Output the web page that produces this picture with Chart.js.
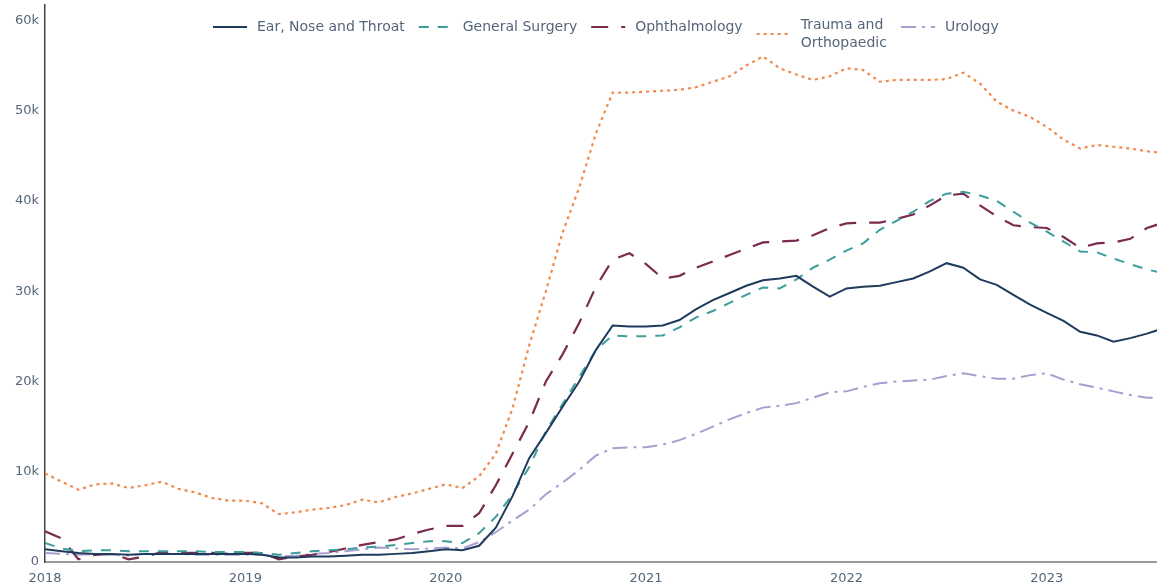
<!DOCTYPE html>
<html>
<head>
<meta charset="utf-8">
<script src="https://cdn.jsdelivr.net/npm/chart.js@4.4.1/dist/chart.umd.min.js"></script>
<style>
  html, body { margin: 0; padding: 0; background: #fff; }
  #wrap { width: 1157px; height: 586px; position: relative; }
</style>
</head>
<body>
<div id="wrap"><canvas id="chart"></canvas></div>
<script>
// monthly values, Jan 2018 .. Aug 2023
const yearLabels = ['2018', '2019', '2020', '2021', '2022', '2023'];
const yTickValues = [0, 10000, 20000, 30000, 40000, 50000, 60000];
const yTickLabels = ['0', '10k', '20k', '30k', '40k', '50k', '60k'];
const seriesNames = ['Ear, Nose and Throat', 'General Surgery', 'Ophthalmology', 'Trauma and\nOrthopaedic', 'Urology'];

const ent = [
  1400, 1200, 1000, 900, 900, 800, 900, 900, 900, 900, 900, 900,
  900, 800, 500, 500, 600, 600, 700, 800, 800, 900, 1000, 1200,
  1400, 1300, 1800, 3800, 7300, 11500, 14300, 17200, 20000, 23500, 26200, 26100,
  26100, 26200, 26800, 28000, 29000, 29800, 30600, 31200, 31400, 31700, 30500, 29400,
  30300, 30500, 30600, 31000, 31400, 32200, 33100, 32600, 31300, 30700, 29600, 28500,
  27600, 26700, 25500, 25100, 24400, 24800, 25300, 25900
];
const generalSurgery = [
  2100, 1500, 1200, 1300, 1300, 1200, 1200, 1200, 1200, 1200, 1100, 1100,
  1100, 1000, 800, 1000, 1200, 1300, 1400, 1600, 1700, 1900, 2100, 2300,
  2300, 2100, 3200, 5000, 7500, 10500, 14500, 17500, 20500, 23500, 25100, 25000,
  25000, 25100, 26000, 27100, 27800, 28700, 29600, 30400, 30300, 31300, 32600, 33500,
  34500, 35300, 36800, 37800, 38800, 40000, 40800, 41000, 40600, 40000, 38800, 37600,
  36600, 35500, 34400, 34300, 33600, 33000, 32400, 32000
];
const ophthalmology = [
  3400, 2600, 300, 800, 900, 300, 600, 1100, 1000, 1000, 1000, 900,
  1000, 1000, 300, 600, 800, 1100, 1500, 1900, 2200, 2500, 3100, 3600,
  4000, 4000, 5400, 8500, 12000, 15500, 20000, 23000, 26500, 30500, 33500, 34200,
  33000, 31400, 31700, 32600, 33300, 34000, 34700, 35400, 35500, 35600, 36200, 37000,
  37500, 37600, 37600, 38000, 38500, 39500, 40600, 40800, 39500, 38300, 37300, 37100,
  37000, 36000, 34800, 35300, 35400, 35800, 37000, 37600
];
const trauma = [
  9800, 8900, 8000, 8600, 8700, 8200, 8500, 8900, 8100, 7700, 7100, 6800,
  6800, 6500, 5300, 5500, 5800, 6000, 6300, 6900, 6600, 7200, 7600, 8100,
  8600, 8200, 9500, 12000, 17000, 24000, 30000, 36500, 41500, 47500, 52000, 52000,
  52100, 52200, 52300, 52600, 53200, 53800, 55000, 56000, 54700, 54000, 53400, 53800,
  54700, 54500, 53200, 53400, 53400, 53400, 53500, 54200, 53000, 51000, 50000, 49300,
  48200, 46800, 45800, 46200, 46000, 45800, 45500, 45300
];
const urology = [
  1000, 900, 800, 900, 800, 700, 900, 900, 900, 800, 800, 800,
  800, 800, 600, 700, 900, 1000, 1200, 1400, 1600, 1500, 1400, 1500,
  1600, 1500, 2200, 3300, 4600, 5800, 7500, 8800, 10200, 11800, 12600, 12700,
  12700, 13000, 13500, 14200, 15000, 15800, 16500, 17100, 17300, 17600, 18200, 18800,
  18900, 19400, 19800, 20000, 20100, 20200, 20600, 20900, 20600, 20300, 20300, 20700,
  20900, 20200, 19700, 19300, 18900, 18500, 18200, 18200
];

const textColor = '#56667a';
const toPoints = arr => arr.map((v, i) => ({ x: i, y: v }));

// plotly-style legend sitting inside the top of the plot
const topLegend = {
  id: 'topLegend',
  afterDraw(chart) {
    const ctx = chart.ctx;
    ctx.save();
    ctx.font = '14px "DejaVu Sans"';
    ctx.textBaseline = 'middle';
    let x = 213;
    chart.data.datasets.forEach((ds, i) => {
      const lines = seriesNames[i].split('\n');
      const yMid = lines.length > 1 ? 34 : 27;
      ctx.strokeStyle = ds.borderColor;
      ctx.lineWidth = ds.borderWidth;
      ctx.setLineDash(ds.borderDash || []);
      ctx.beginPath();
      ctx.moveTo(x, yMid);
      ctx.lineTo(x + 34, yMid);
      ctx.stroke();
      ctx.setLineDash([]);
      ctx.fillStyle = textColor;
      let w = 0;
      lines.forEach((t, k) => {
        ctx.fillText(t, x + 44, yMid - (lines.length - 1) * 9 + k * 18);
        w = Math.max(w, ctx.measureText(t).width);
      });
      x += 44 + w + 14;
    });
    ctx.restore();
  }
};

const ctx = document.getElementById('chart').getContext('2d');
const chart = new Chart(ctx, {
  type: 'line',
  data: {
    datasets: [
      { label: 'Ear, Nose and Throat', data: toPoints(ent), borderColor: '#1f3b5c', borderWidth: 2 },
      { label: 'General Surgery', data: toPoints(generalSurgery), borderColor: '#3d9d9b', borderWidth: 2, borderDash: [10, 9] },
      { label: 'Ophthalmology', data: toPoints(ophthalmology), borderColor: '#7a2b4e', borderWidth: 2.2, borderDash: [17, 13] },
      { label: 'Trauma and Orthopaedic', data: toPoints(trauma), borderColor: '#f2894b', borderWidth: 2.2, borderDash: [3, 4] },
      { label: 'Urology', data: toPoints(urology), borderColor: '#a6a0d0', borderWidth: 2, borderDash: [15, 6, 3, 6] }
    ]
  },
  options: {
    responsive: true,
    maintainAspectRatio: false,
    animation: false,
    layout: { padding: { top: 5, right: 0, left: 0, bottom: 0 } },
    elements: { point: { radius: 0 }, line: { tension: 0, fill: false } },
    plugins: { legend: { display: false }, tooltip: { enabled: false } },
    scales: {
      x: {
        type: 'linear',
        min: 0,
        max: 66.6,
        grid: { display: false },
        border: { display: true, color: '#9a9a9a', width: 2 },
        afterBuildTicks: s => { s.ticks = yearLabels.map((_, i) => ({ value: i * 12 })); },
        ticks: {
          color: textColor,
          font: { family: 'DejaVu Sans', size: 13 },
          padding: 1,
          maxRotation: 0,
          autoSkip: false,
          callback: (v, i) => yearLabels[i]
        },
        afterFit: s => { s.height = 24; s.paddingLeft = 0; s.paddingRight = 0; }
      },
      y: {
        min: 0,
        max: 61700,
        grid: { display: false },
        border: { display: true, color: '#444', width: 1.5 },
        afterBuildTicks: s => { s.ticks = yTickValues.map(v => ({ value: v })); },
        ticks: {
          color: textColor,
          font: { family: 'DejaVu Sans', size: 13 },
          padding: -2,
          autoSkip: false,
          callback: (v, i) => yTickLabels[i]
        },
        afterFit: s => { s.width = 45; s.paddingTop = 0; s.paddingBottom = 0; }
      }
    }
  },
  plugins: [topLegend]
});
</script>
</body>
</html>
